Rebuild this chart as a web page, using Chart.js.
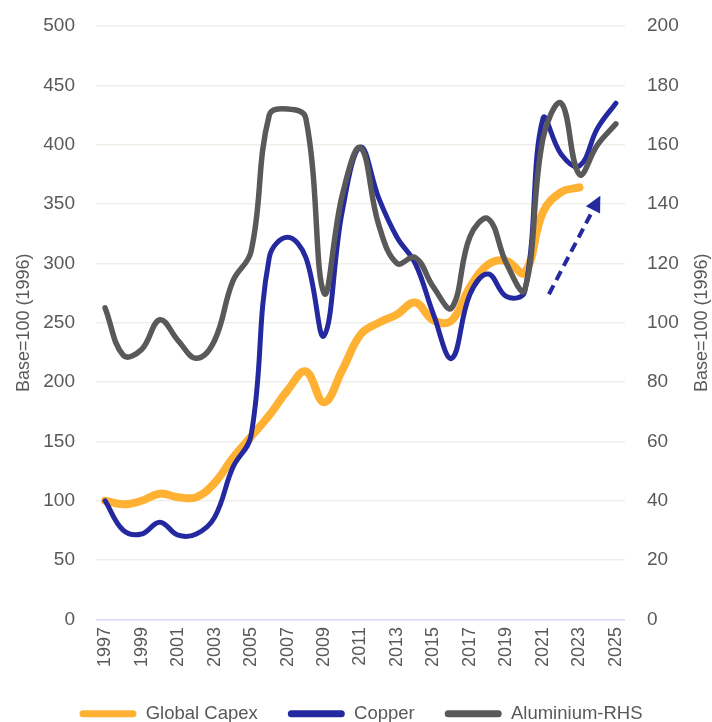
<!DOCTYPE html>
<html>
<head>
<meta charset="utf-8">
<script src="https://cdn.jsdelivr.net/npm/chart.js@4.4.1/dist/chart.umd.min.js"></script>
<style>
  html, body { margin:0; padding:0; background:#fff; overflow:hidden; }
  #wrap { width:712px; height:733px; position:relative; }
</style>
</head>
<body>
<div id="wrap"><canvas id="capexChart"></canvas></div>
<script>
// ── Data ───────────────────────────────────────
const years = ['1997','1998','1999','2000','2001','2002','2003','2004','2005','2006',
               '2007','2008','2009','2010','2011','2012','2013','2014','2015','2016',
               '2017','2018','2019','2020','2021','2022','2023','2024','2025'];

const globalCapex = [100, 97, 100, 106, 103, 103, 115, 136, 154, 172,
                     193, 209, 183, 210, 240, 250, 257, 267, 252, 252,
                     280, 299, 302, 292, 343, 360, 364, null, null];

const copper = [100, 75, 72, 82, 71, 72, 86, 128, 155, 305,
                322, 305, 239, 344, 398, 355, 322, 300, 257, 220,
                274, 291, 272, 276, 422, 392, 382, 414, 435];

const aluminiumRhs = [105, 89, 91, 101, 94, 88, 94, 114, 124, 170,
                      172, 169, 110, 143, 159, 133, 120, 122, 112, 105,
                      129, 135, 120, 111, 162, 174, 150, 160, 167];

const leftTicks = [0, 50, 100, 150, 200, 250, 300, 350, 400, 450, 500];
const rightTicks = [0, 20, 40, 60, 80, 100, 120, 140, 160, 180, 200];

// trend arrow, in data space: [year index, left-axis value]
const arrowFrom = [24.33, 274];
const arrowTo = [27.15, 357];

const AXIS_TITLE = 'Base=100 (1996)';
const FONT = "'Liberation Sans', Arial, sans-serif";
const TXT = '#595959';

// ── Dashed trend arrow ─────────────────────────
const trendArrow = {
    id: 'trendArrow',
    afterDatasetsDraw(chart) {
        const x = chart.scales.x, y = chart.scales.y;
        const x1 = x.getPixelForValue(arrowFrom[0]), y1 = y.getPixelForValue(arrowFrom[1]);
        const x2 = x.getPixelForValue(arrowTo[0]), y2 = y.getPixelForValue(arrowTo[1]);
        const ang = Math.atan2(y2 - y1, x2 - x1);
        const headLen = 16, headW = 8;
        const bx = x2 - Math.cos(ang) * headLen, by = y2 - Math.sin(ang) * headLen;
        const ctx = chart.ctx;
        ctx.save();
        ctx.strokeStyle = '#2529A0';
        ctx.fillStyle = '#2529A0';
        ctx.lineWidth = 4;
        ctx.setLineDash([10, 6]);
        ctx.beginPath();
        ctx.moveTo(x1, y1);
        ctx.lineTo(bx, by);
        ctx.stroke();
        ctx.setLineDash([]);
        ctx.beginPath();
        ctx.moveTo(x2, y2);
        ctx.lineTo(bx + Math.sin(ang) * headW, by - Math.cos(ang) * headW);
        ctx.lineTo(bx - Math.sin(ang) * headW, by + Math.cos(ang) * headW);
        ctx.closePath();
        ctx.fill();
        ctx.restore();
    }
};

// ── Axis titles (both read bottom-to-top) ──────
const sideTitles = {
    id: 'sideTitles',
    afterDraw(chart) {
        const a = chart.chartArea, ctx = chart.ctx;
        const midY = (a.top + a.bottom) / 2;
        ctx.save();
        ctx.font = '18px ' + FONT;
        ctx.fillStyle = TXT;
        ctx.textAlign = 'center';
        ctx.textBaseline = 'middle';
        [a.left - 72, a.right + 77].forEach(cx => {
            ctx.save();
            ctx.translate(cx, midY);
            ctx.rotate(-Math.PI / 2);
            ctx.fillText(AXIS_TITLE, 0, 0);
            ctx.restore();
        });
        ctx.restore();
    }
};

// ── Chart ──────────────────────────────────────
function initChart() {
    const ctx = document.getElementById('capexChart');
    const hidden = 'rgba(0,0,0,0)';
    new Chart(ctx, {
        type: 'line',
        data: {
            labels: years,
            datasets: [
                { label: 'Global Capex', data: globalCapex, yAxisID: 'y',
                  borderColor: '#FFB133', backgroundColor: '#FFB133',
                  borderWidth: 8, order: 3 },
                { label: 'Copper', data: copper, yAxisID: 'y',
                  borderColor: '#2529A0', backgroundColor: '#2529A0',
                  borderWidth: 5, order: 2 },
                { label: 'Aluminium-RHS', data: aluminiumRhs, yAxisID: 'y1',
                  borderColor: '#595959', backgroundColor: '#595959',
                  borderWidth: 5.5, order: 1 }
            ]
        },
        options: {
            responsive: true, maintainAspectRatio: false, animation: false,
            layout: { padding: { left: 43.3, right: 33.3, top: 26, bottom: 0 } },
            elements: {
                point: { radius: 0, hoverRadius: 0 },
                line: { tension: 0.4, borderCapStyle: 'round', borderJoinStyle: 'round', fill: false }
            },
            plugins: {
                tooltip: { enabled: false },
                legend: {
                    position: 'bottom',
                    labels: {
                        font: { family: FONT, size: 18.5 }, color: TXT,
                        boxWidth: 57, boxHeight: 7, padding: 30,
                        useBorderRadius: true, borderRadius: 3.5,
                        generateLabels(chart) {
                            return chart.data.datasets.map((ds, i) => ({
                                text: ds.label, fillStyle: ds.borderColor,
                                strokeStyle: ds.borderColor, lineWidth: 0,
                                fontColor: TXT, datasetIndex: i, borderRadius: 3.5
                            }));
                        }
                    }
                }
            },
            scales: {
                x: {
                    offset: true,
                    grid: { display: false, drawTicks: false },
                    border: { display: false },
                    ticks: {
                        autoSkip: false, maxRotation: 90, minRotation: 90, padding: 7.5,
                        color: TXT, font: { family: FONT, size: 18 },
                        callback: (v, i) => (i % 2 === 0 ? years[i] : null)
                    }
                },
                y: {
                    position: 'left', min: 0, max: 500,
                    afterBuildTicks: s => { s.ticks = leftTicks.map(v => ({ value: v })); },
                    grid: {
                        drawTicks: true, tickLength: 21, tickColor: hidden, lineWidth: 1.5,
                        color: c => (c.tick && c.tick.value === 0 ? '#D8D8F4' : '#EFEFEA')
                    },
                    border: { display: false },
                    ticks: { padding: 0, color: TXT, font: { family: FONT, size: 19 } }
                },
                y1: {
                    position: 'right', min: 0, max: 200,
                    afterBuildTicks: s => { s.ticks = rightTicks.map(v => ({ value: v })); },
                    grid: { drawOnChartArea: false, drawTicks: true, tickLength: 22, tickColor: hidden },
                    border: { display: false },
                    ticks: { padding: 0, color: TXT, font: { family: FONT, size: 19 } }
                }
            }
        },
        plugins: [trendArrow, sideTitles]
    });
}

document.addEventListener('DOMContentLoaded', initChart);
</script>
</body>
</html>
